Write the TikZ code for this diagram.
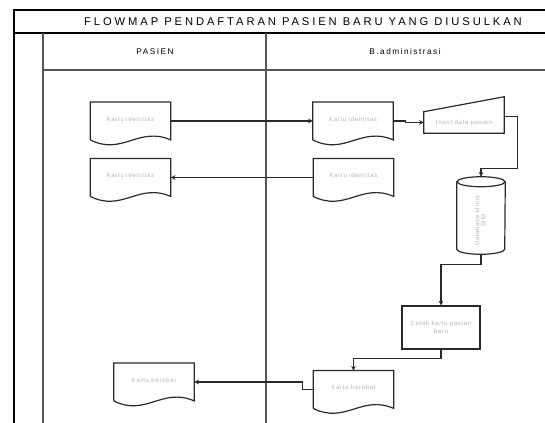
\documentclass[tikz,border=0pt]{standalone}
\usepackage{fontspec}
\setmainfont{Liberation Sans}
\newfontfamily\titlefont[LetterSpace=26]{Liberation Sans}
\newfontfamily\headfont[LetterSpace=18]{Liberation Sans}
\newfontfamily\smallfont[LetterSpace=12]{Liberation Sans}
\usetikzlibrary{calc,arrows.meta}
\definecolor{linec}{HTML}{2A2A2A}
\definecolor{framec}{HTML}{555555}
\definecolor{txtc}{HTML}{B0B0B0}
\newcommand\drawdocshape[1]{%
  \draw[shapeline] (#1.south west) -- (#1.north west) -- (#1.north east) -- (#1.south east)
    .. controls ($(#1.south west)!0.6!(#1.south east)+(0,-14)$) and ($(#1.south west)!0.4!(#1.south east)+(0,16)$) .. (#1.south west);}
\begin{document}
\begin{tikzpicture}[x=0.75pt,y=-0.75pt,
  shapeline/.style={draw=linec, line width=0.9pt},
  docnode/.style={minimum width=60pt, minimum height=28pt, inner sep=0pt,
    font=\smallfont\fontsize{4.5}{5.5}\selectfont, text=txtc},
  boxnode/.style={shapeline, inner sep=0pt, align=center,
    font=\smallfont\fontsize{4.5}{6.5}\selectfont, text=txtc},
  arr/.style={draw=linec, line width=0.8pt, -{Stealth[length=3.5pt,width=3.5pt]}},
  head/.style={font=\headfont\fontsize{6.2}{7}\selectfont, text=black}]
\useasboundingbox (0,0) rectangle (545,423);
% frame
\draw[line width=1.6pt, black] (14,423) -- (14,10) -- (545,10);
\draw[line width=1pt, black] (14,33) -- (545,33);
\draw[line width=1pt, framec] (43,33) -- (43,423);
\draw[line width=1pt, framec] (266,33) -- (266,423);
\draw[line width=1.5pt, framec] (43,70) -- (545,70);
\node[font=\titlefont\fontsize{8.4}{10}\selectfont] (title) at (303,21.5) {FLOWMAP PENDAFTARAN PASIEN BARU YANG DIUSULKAN};
\node[head] (hp) at (155,52) {PASIEN};
\node[head] (ha) at (405,52) {B.administrasi};
% documents
\node[docnode] (pd1) at (130.5,121) {\raisebox{3pt}{Kartu identitas}};
\node[docnode] (pd2) at (130.5,177.5) {\raisebox{3pt}{Kartu identitas}};
\node[docnode] (pd3) at (154,382) {\raisebox{3pt}{Kartu berobat}};
\node[docnode] (ad1) at (353,121) {\raisebox{3pt}{Kartu identitas}};
\node[docnode] (ad2) at (353.5,177.5) {\raisebox{3pt}{Kartu identitas}};
\node[docnode] (ad3) at (353.5,389.5) {\raisebox{3pt}{Kartu berobat}};
\foreach \n in {pd1,pd2,pd3,ad1,ad2,ad3} {\drawdocshape{\n}}
% manual input
\node[docnode, minimum height=15.75pt] (tr) at (464,122.5) {Input data pasien};
\draw[shapeline] (tr.south west) -- (tr.north west) -- ($(tr.north east)+(0,-15)$) -- (tr.south east) -- cycle;
% database
\node[docnode, minimum width=36pt, minimum height=57.75pt] (cyl) at (481,215.5)
  {\rotatebox{90}{\begin{tabular}{@{}c@{}}Database klinik\hspace*{8pt}\\[-1pt]SIM\hspace*{8pt}\end{tabular}}};
\draw[shapeline] ($(cyl.north)+(0,5)$) ellipse [x radius=18pt, y radius=3.75pt];
\draw[shapeline] ($(cyl.north west)+(0,5)$) -- ($(cyl.south west)+(0,-5)$)
  arc[start angle=180, end angle=360, x radius=18pt, y radius=3.75pt] -- ($(cyl.north east)+(0,5)$);
% process
\node[boxnode, minimum width=58.5pt, minimum height=32.25pt] (box) at (441,327.5) {Cetak kartu pasien\\baru};
% connectors
\draw[arr] (pd1.east) -- (ad1.west);
\draw[arr] (ad1.east) -- ++(12,0) |- (tr.west);
\draw[arr] ([yshift=4.5pt]tr.east) -- ++(13,0) -- ++(0,52) -| (cyl.north);
\draw[arr] (cyl.south) -- ++(0,10) -| (box.north);
\draw[arr] (box.south) -- ++(0,9) -| (ad3.north);
\draw[arr] (ad2.west) -- (pd2.east);
\draw[arr] (ad3.west) -- ++(-11,0) |- (pd3.east);
\end{tikzpicture}
\end{document}
